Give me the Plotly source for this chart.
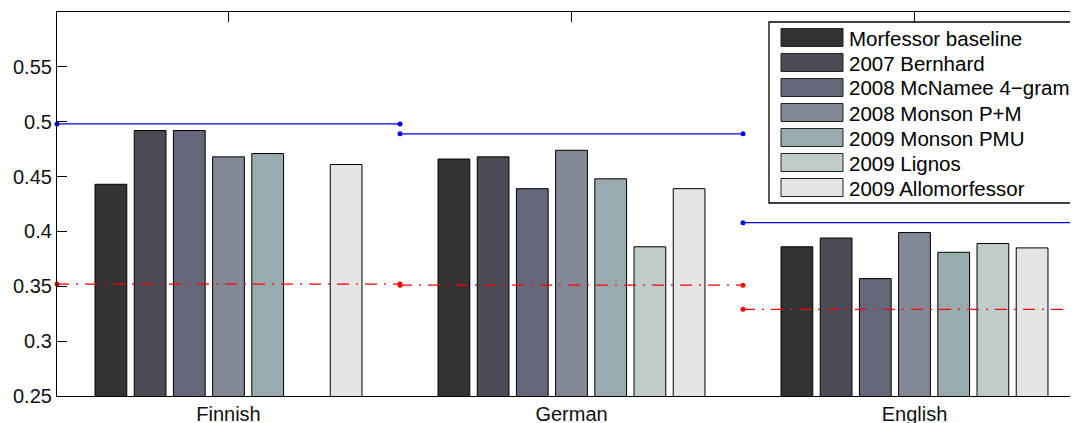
import plotly.graph_objects as go

# ---- data ----
languages = ["Finnish", "German", "English"]
methods = ["Morfessor baseline", "2007 Bernhard", "2008 McNamee 4\u2212gram",
           "2008 Monson P+M", "2009 Monson PMU", "2009 Lignos", "2009 Allomorfessor"]
morfessor_baseline = [0.443, 0.466, 0.386]
bernhard_2007 = [0.492, 0.468, 0.394]
mcnamee_2008 = [0.492, 0.439, 0.357]
monson_pm_2008 = [0.468, 0.474, 0.399]
monson_pmu_2009 = [0.471, 0.448, 0.381]
lignos_2009 = [None, 0.386, 0.389]
allomorfessor_2009 = [0.461, 0.439, 0.385]
blue_line_values = [0.498, 0.489, 0.408]
red_line_values = [0.352, 0.351, 0.329]
ytick_values = [0.25, 0.3, 0.35, 0.4, 0.45, 0.5, 0.55]
ytick_labels = ["0.25", "0.3", "0.35", "0.4", "0.45", "0.5", "0.55"]

series = [morfessor_baseline, bernhard_2007, mcnamee_2008, monson_pm_2008,
          monson_pmu_2009, lignos_2009, allomorfessor_2009]
colors = ["#333333", "#4b4b55", "#646679", "#828895", "#9aabaf", "#bfcccb", "#e5e5e5"]

FONT = "Liberation Sans, Arial, Helvetica, sans-serif"
OFF = 8                      # default page body margin
PAGE_W, PAGE_H = 1078, 423
W, H = PAGE_W - OFF, PAGE_H - OFF
PL, PT, PB = 57, 12, 396     # plot area in page pixels
L, T, R = PL - OFF, PT - OFF, 0
B = (PAGE_H - PB)
plot_w = W - L - R
plot_h = H - T - B
unit_px = 343.0
xpos = [1, 2, 3]

fig = go.Figure()
for name, vals, col in zip(methods, series, colors):
    fig.add_trace(go.Bar(x=xpos, y=vals, name=name,
                         marker=dict(color=col, line=dict(color="#000000", width=1)),
                         showlegend=False))

for i, v in enumerate(blue_line_values):
    fig.add_trace(go.Scatter(x=[xpos[i] - 0.5, xpos[i] + 0.5], y=[v, v], mode="lines+markers",
                             line=dict(color="#0000ff", width=1.2), marker=dict(color="#0000ff", size=5),
                             cliponaxis=False, showlegend=False))
for i, v in enumerate(red_line_values):
    fig.add_trace(go.Scatter(x=[xpos[i] - 0.5, xpos[i] + 0.5], y=[v, v], mode="lines+markers",
                             line=dict(color="#ff0000", width=1.2, dash="12px,7px,2px,7px"),
                             marker=dict(color="#ff0000", size=5),
                             cliponaxis=False, showlegend=False))

# secondary y axis only for the right-side ticks
fig.add_trace(go.Scatter(x=[None], y=[None], yaxis="y2", showlegend=False))

def px_x(px):
    return (px - PL) / plot_w

def px_y(py):
    return (PB - py) / plot_h

# custom legend (MATLAB style)
shapes = [dict(type="rect", xref="paper", yref="paper", x0=px_x(769), x1=px_x(1075),
               y0=px_y(203), y1=px_y(22),
               fillcolor="white", line=dict(color="black", width=1.3), layer="above")]
annotations = []
for k, (name, col) in enumerate(zip(methods, colors)):
    cy = 37.5 + 25 * k
    shapes.append(dict(type="rect", xref="paper", yref="paper", x0=px_x(781), x1=px_x(843),
                       y0=px_y(cy + 9), y1=px_y(cy - 9), fillcolor=col,
                       line=dict(color="#222222", width=1), layer="above"))
    annotations.append(dict(xref="paper", yref="paper", x=px_x(846.5), y=px_y(cy + 0.5), text=name,
                            showarrow=False, xanchor="left", yanchor="middle",
                            font=dict(family=FONT, size=20.5, color="black")))

yr = [0.25, 0.25 + plot_h / 1097.0]
fig.update_layout(
    width=W, height=H, margin=dict(l=L, r=R, t=T, b=B, pad=0, autoexpand=False),
    paper_bgcolor="white", plot_bgcolor="white",
    barmode="group", bargap=0.2, bargroupgap=0.19,
    font=dict(family=FONT, size=20, color="black"),
    shapes=shapes, annotations=annotations,
    xaxis=dict(range=[0.5, 0.5 + plot_w / unit_px], tickvals=xpos, ticktext=languages,
               showline=True, linecolor="black", linewidth=1.2, mirror="ticks",
               ticks="inside", ticklen=10, tickcolor="black", showgrid=False, zeroline=False,
               automargin=False, layer="below traces",
               tickfont=dict(family=FONT, size=20, color="#111111")),
    yaxis=dict(range=yr, tickvals=ytick_values, ticktext=ytick_labels,
               showline=True, linecolor="black", linewidth=1.2, mirror=False,
               ticks="inside", ticklen=10, tickcolor="black", showgrid=False, zeroline=False,
               automargin=False, tickfont=dict(family=FONT, size=20, color="#111111")),
    yaxis2=dict(range=yr, tickvals=ytick_values, overlaying="y", side="right",
                showticklabels=False, ticks="inside", ticklen=3, tickcolor="black", showline=False,
                showgrid=False, zeroline=False, automargin=False),
)

fig.write_html("out.html")
